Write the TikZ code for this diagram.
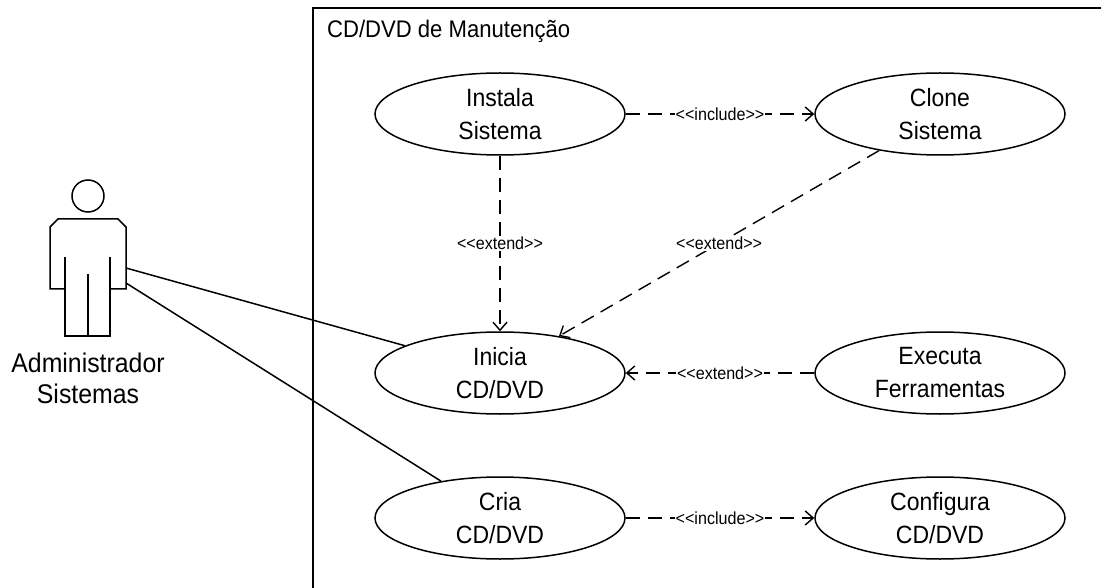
\documentclass[tikz,border=0pt]{standalone}
\usepackage{fontspec}
\setmainfont{Liberation Sans}[FakeStretch=0.92]
\usetikzlibrary{shapes.geometric,arrows.meta}
\tikzset{usecase/.style={draw=black, ellipse, line width=1.5pt, minimum width=250pt, minimum height=82pt, inner sep=0pt, align=center, font=\fontsize{25}{33}\selectfont},
         dep/.style={dash pattern=on 14pt off 8pt, line width=1.4pt, -{Straight Barb[length=8pt,width=14pt]}},
         deplabel/.style={fill=white, inner sep=1pt, font=\fontsize{17.5}{20}\selectfont},
         limb/.style={line width=1.5pt}}
\begin{document}
\begin{tikzpicture}[x=1pt,y=-1pt]
    \useasboundingbox (0,0) rectangle (1101,588);
    \draw[limb] (313,588) -- (313,8) -- (1101,8);
    \node[anchor=west, inner sep=0pt, font=\fontsize{24}{28}\selectfont] (titulo) at (327,31) {CD/DVD de Manutenção};
    \node[usecase] (instala) at (500,114) {Instala\\Sistema};
    \node[usecase] (clone) at (940,114) {Clone\\Sistema};
    \node[usecase] (inicia) at (500,373) {Inicia\\CD/DVD};
    \node[usecase] (executa) at (940,373) {Executa\\Ferramentas};
    \node[usecase] (cria) at (500,518) {Cria\\CD/DVD};
    \node[usecase] (configura) at (940,518) {Configura\\CD/DVD};
    % actor
    \node[draw, circle, limb, minimum size=32pt, inner sep=0pt] (cabeca) at (88,196) {};
    \draw[limb] (65,289) -- (50,289) -- (50,227) -- (58,219) -- (118,219) -- (126,227) -- (126,289) -- (110,289);
    \draw[limb] (65,257) -- (65,336) -- (110,336) -- (110,257);
    \draw[limb] (88,274) -- (88,336);
    \coordinate (ombro) at (126,268);
    \coordinate (mao) at (126,283);
    \node[align=center, font=\fontsize{27}{31}\selectfont] (admin) at (88,378) {Administrador\\Sistemas};
    % ligacoes
    \draw[limb] (ombro) -- (inicia.164);
    \draw[limb] (mao) -- (cria.148);
    \draw[dep] (instala.east) -- node[deplabel] (l1) {<{}<include>{}>} (clone.west);
    \draw[dep] (instala.south) -- node[deplabel] (l2) {<{}<extend>{}>} (inicia.north);
    \draw[dep] (clone.211) -- node[deplabel] (l3) {<{}<extend>{}>} (inicia.32);
    \draw[dep] (executa.west) -- node[deplabel] (l4) {<{}<extend>{}>} (inicia.east);
    \draw[dep] (cria.east) -- node[deplabel] (l5) {<{}<include>{}>} (configura.west);
\end{tikzpicture}
\end{document}
